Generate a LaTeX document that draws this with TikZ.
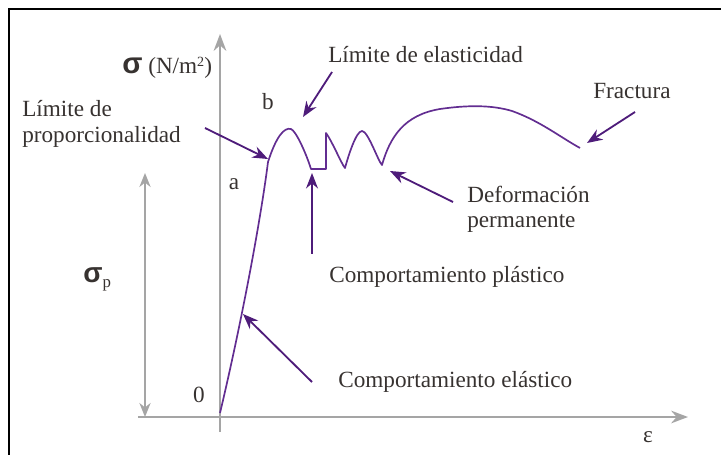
\documentclass[tikz,border=0pt]{standalone}
\usepackage{fontspec}
\setmainfont{Liberation Serif}
\newfontfamily\greekfont{Liberation Sans}
\usetikzlibrary{arrows.meta}

\definecolor{curvepurple}{RGB}{98,45,145}
\definecolor{arrowpurple}{RGB}{78,28,122}
\definecolor{axisgray}{RGB}{165,165,165}
\definecolor{textgray}{RGB}{55,50,48}

\tikzstyle{label text}=[inner sep=0pt,text=textgray,font=\fontsize{16.5}{18}\selectfont]
\tikzstyle{frame line}=[draw,line width=1.5pt,black]
\tikzstyle{axis line}=[draw,line width=1.6pt,axisgray,-{Stealth[length=12pt,width=9pt]}]
\tikzstyle{sigma range}=[draw,line width=1.2pt,axisgray,{Stealth[length=10pt,width=8pt]}-{Stealth[length=10pt,width=8pt]}]
\tikzstyle{stress curve}=[draw,line width=1.2pt,curvepurple,line join=round]
\tikzstyle{pointer}=[draw,line width=1.3pt,arrowpurple,-{Stealth[length=11pt,width=8.5pt]}]

\begin{document}
\begin{tikzpicture}
    \useasboundingbox (-5.5,-0.925) rectangle (12.525,10.425);
    % Frame round the figure
    \path[frame line] (-5.275,-1.2) -- (-5.275,10.2) -- (12.8,10.2);
    % Axes and the sigma_p range
    \foreach \x/\y/\name in {-2.05/0/XStart,11.7/0/XEnd,0/-0.375/YStart,0/9.575/YEnd,
        -1.875/0/PBot,-1.875/6.1/PTop}
    \coordinate (\name) at (\x,\y);
    \path[axis line] (XStart) -- (XEnd);
    \path[axis line] (YStart) -- (YEnd);
    \path[sigma range] (PBot) -- (PTop);
    % Axis labels
    \node[label text,anchor=base west] (SigmaAxis) at (-2.45,8.575)
        {{\greekfont\bfseries\fontsize{21}{21}\selectfont σ} (N/m\raisebox{5pt}{\fontsize{10}{10}\selectfont 2})};
    \node[label text,anchor=base west] (SigmaP) at (-3.425,3.35)
        {{\greekfont\bfseries\fontsize{20}{20}\selectfont σ}\raisebox{-3.5pt}{\fontsize{12}{12}\selectfont p}};
    \foreach \x/\y/\name/\txt in {10.7/-0.625/Eps/ε,-0.525/0.375/Zero/0,
        0.35/5.675/PtA/a,1.2/7.675/PtB/b}
    \node[label text,anchor=base] (\name) at (\x,\y) {\txt};
    % The stress-strain curve
    \draw[stress curve] (0,0.1) .. controls (0.5,2.2) and (1.0,4.8) .. (1.2,6.375)
        .. controls (1.4,7.0) and (1.6,7.25) .. (1.775,7.2)
        .. controls (1.9,7.15) and (2.15,6.6) .. (2.275,6.2)
        -- (2.65,6.2) -- (2.65,7.1)
        .. controls (2.8,6.9) and (3.05,6.3) .. (3.125,6.225)
        .. controls (3.2,6.5) and (3.4,7.15) .. (3.55,7.15)
        .. controls (3.7,7.15) and (3.95,6.4) .. (4.05,6.3)
        .. controls (4.25,7.0) and (4.6,7.55) .. (5.5,7.7)
        .. controls (6.2,7.8) and (6.8,7.8) .. (7.3,7.65)
        .. controls (8.0,7.4) and (8.5,7.0) .. (9.0,6.725);
    % Labels of the regions
    \foreach \x/\y/\name/\txt in {2.7/8.85/LimElast/Límite de elasticidad,
        9.325/7.95/Fract/Fractura,
        2.725/3.35/CompPlast/Comportamiento plástico,
        2.95/0.725/CompElast/Comportamiento elástico}
    \node[label text,anchor=base west] (\name) at (\x,\y) {\txt};
    \node[label text,anchor=west,align=left] (LimProp) at (-4.95,7.325) {Límite de\\proporcionalidad};
    \node[label text,anchor=west,align=left] (Deform) at (6.175,5.2) {Deformación\\permanente};
    % Arrows pointing at the curve
    \foreach \x/\y/\name in {2.8/8.625/ElastTail,2.075/7.5/ElastTip,
        -0.375/7.225/PropTail,1.2/6.45/PropTip,
        2.3/4.075/PlastTail,2.3/6.1/PlastTip,
        5.825/5.375/DefTail,4.25/6.15/DefTip,
        10.375/7.625/FracTail,9.175/6.85/FracTip,
        2.3/0.875/ElaTail,0.575/2.575/ElaTip}
    \coordinate (\name) at (\x,\y);
    \foreach \source/ \dest in {ElastTail/ElastTip,PropTail/PropTip,PlastTail/PlastTip,
        DefTail/DefTip,FracTail/FracTip,ElaTail/ElaTip}
    \path[pointer] (\source) -- (\dest);
\end{tikzpicture}
\end{document}
